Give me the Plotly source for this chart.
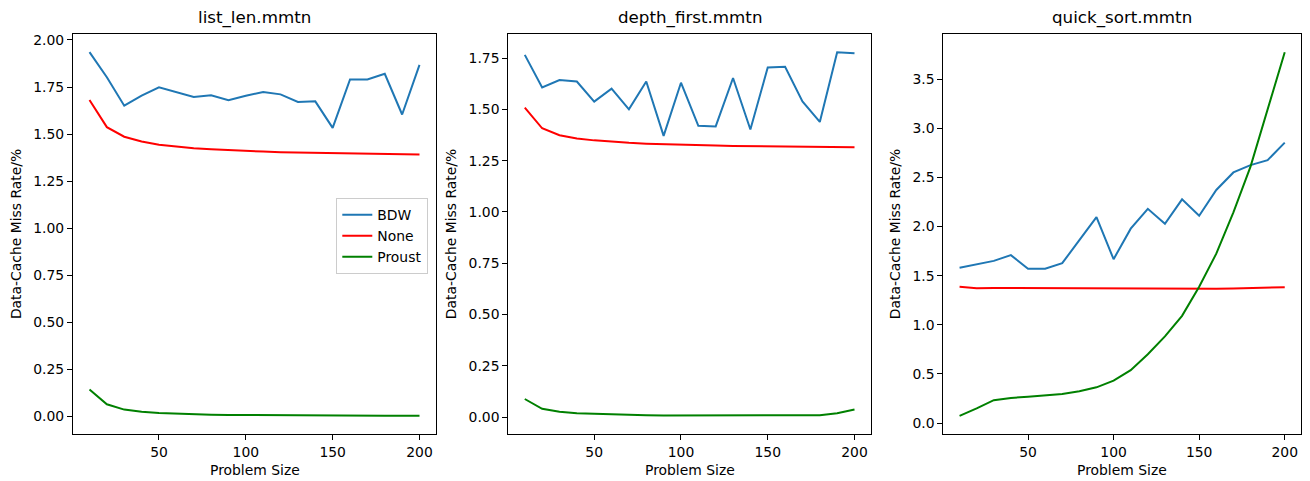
import plotly.graph_objects as go

sizes = [10, 20, 30, 40, 50, 60, 70, 80, 90, 100, 110, 120, 130, 140, 150, 160, 170, 180, 190, 200]

titles = ["list_len.mmtn", "depth_first.mmtn", "quick_sort.mmtn"]
series_names = ["BDW", "None", "Proust"]
x_title = "Problem Size"
y_title = "Data-Cache Miss Rate/%"

bdw_list_len = [1.935, 1.802, 1.651, 1.704, 1.748, 1.722, 1.697, 1.706, 1.680, 1.704,
                1.724, 1.711, 1.671, 1.674, 1.533, 1.790, 1.790, 1.820, 1.604, 1.868]
none_list_len = [1.681, 1.537, 1.486, 1.461, 1.444, 1.433, 1.425, 1.419, 1.414, 1.410,
                 1.407, 1.404, 1.402, 1.400, 1.398, 1.397, 1.395, 1.394, 1.393, 1.392]
proust_list_len = [0.144, 0.065, 0.037, 0.025, 0.019, 0.015, 0.012, 0.010, 0.009, 0.008,
                   0.007, 0.006, 0.006, 0.005, 0.005, 0.004, 0.004, 0.004, 0.004, 0.005]

bdw_depth_first = [1.766, 1.607, 1.643, 1.636, 1.538, 1.601, 1.500, 1.636, 1.371, 1.630,
                   1.420, 1.417, 1.653, 1.402, 1.704, 1.708, 1.539, 1.439, 1.779, 1.774]
none_depth_first = [1.509, 1.408, 1.374, 1.358, 1.349, 1.342, 1.337, 1.333, 1.330, 1.328,
                    1.326, 1.324, 1.322, 1.321, 1.320, 1.319, 1.318, 1.317, 1.316, 1.315]
proust_depth_first = [0.088, 0.040, 0.026, 0.019, 0.016, 0.013, 0.011, 0.009, 0.008, 0.008,
                      0.007, 0.007, 0.006, 0.006, 0.009, 0.008, 0.008, 0.009, 0.019, 0.037]

bdw_quick_sort = [1.580, 1.615, 1.651, 1.709, 1.571, 1.571, 1.628, 1.862, 2.096, 1.668,
                  1.979, 2.181, 2.029, 2.277, 2.111, 2.373, 2.551, 2.626, 2.676, 2.855]
none_quick_sort = [1.388, 1.372, 1.375, 1.374, 1.372, 1.371, 1.370, 1.369, 1.368, 1.367,
                   1.367, 1.366, 1.366, 1.366, 1.367, 1.368, 1.370, 1.373, 1.377, 1.383]
proust_quick_sort = [0.074, 0.149, 0.233, 0.256, 0.268, 0.280, 0.296, 0.324, 0.364, 0.432,
                     0.539, 0.700, 0.883, 1.092, 1.388, 1.724, 2.145, 2.610, 3.190, 3.775]

panels = [
    [bdw_list_len, none_list_len, proust_list_len],
    [bdw_depth_first, none_depth_first, proust_depth_first],
    [bdw_quick_sort, none_quick_sort, proust_quick_sort],
]

colors = ["#1f77b4", "red", "green"]
FONT = "DejaVu Sans"
W, H = 1310, 481
ML, MR, MT, MB = 73, 9, 34, 46.5
PW = W - ML - MR
PH = H - MT - MB

# pixel frames of the three axes boxes
frames_px = [(73, 436), (508.3, 871), (943.3, 1301)]
domains = [[(a - ML) / PW, (b - ML) / PW] for a, b in frames_px]
ytick_fmt = [".2f", ".2f", ".1f"]
ydticks = [0.25, 0.25, 0.5]

fig = go.Figure()
for p, vals in enumerate(panels):
    sfx = "" if p == 0 else str(p + 1)
    for s, v in enumerate(vals):
        fig.add_trace(go.Scatter(
            x=sizes, y=v, mode="lines", name=series_names[s],
            line=dict(color=colors[s], width=2),
            xaxis="x" + sfx, yaxis="y" + sfx,
            showlegend=(p == 0),
        ))

axis_common = dict(
    showline=True, mirror=True, linecolor="black", linewidth=1,
    ticks="outside", ticklen=5, tickwidth=1, tickcolor="black",
    showgrid=False, zeroline=False,
    tickfont=dict(family=FONT, size=13.9, color="black"),
)

layout = dict(
    width=W, height=H,
    margin=dict(l=ML, r=MR, t=MT, b=MB),
    paper_bgcolor="white", plot_bgcolor="white",
    font=dict(family=FONT, size=13.9, color="black"),
    showlegend=True,
    legend=dict(
        x=(428.3 - ML) / PW, xanchor="right",
        y=(H - MB - 198.3) / PH, yanchor="top",
        bgcolor="rgba(255,255,255,0.8)", bordercolor="#cccccc", borderwidth=1,
        font=dict(family=FONT, size=13.9, color="black"),
    ),
    annotations=[],
)

for p, vals in enumerate(panels):
    sfx = "" if p == 0 else str(p + 1)
    allv = [x for v in vals for x in v]
    lo, hi = min(allv), max(allv)
    pad = 0.05 * (hi - lo)
    xpad = 0.05 * (max(sizes) - min(sizes))
    layout["xaxis" + sfx] = dict(
        axis_common, domain=domains[p], anchor="y" + sfx,
        range=[min(sizes) - xpad, max(sizes) + xpad], dtick=50, tick0=0,
    )
    layout["yaxis" + sfx] = dict(
        axis_common, domain=[0, 1], anchor="x" + sfx,
        range=[lo - pad, hi + pad], dtick=ydticks[p], tick0=0,
        tickformat=ytick_fmt[p],
        title=dict(text=y_title, standoff=8,
                   font=dict(family=FONT, size=13.9, color="black")),
    )
    layout["annotations"].append(dict(
        text=titles[p], xref="paper", yref="paper",
        x=sum(domains[p]) / 2, y=(H - MB - 17) / PH,
        xanchor="center", yanchor="middle", showarrow=False,
        font=dict(family=FONT, size=16.7, color="black"),
    ))
    layout["annotations"].append(dict(
        text=x_title, xref="paper", yref="paper",
        x=sum(domains[p]) / 2, y=(H - MB - 471) / PH,
        xanchor="center", yanchor="middle", showarrow=False,
        font=dict(family=FONT, size=13.9, color="black"),
    ))

fig.update_layout(layout)
fig.write_html("out.html",
               config={"displayModeBar": False},
               post_script="document.body.style.margin='0';document.body.style.overflow='hidden';")
